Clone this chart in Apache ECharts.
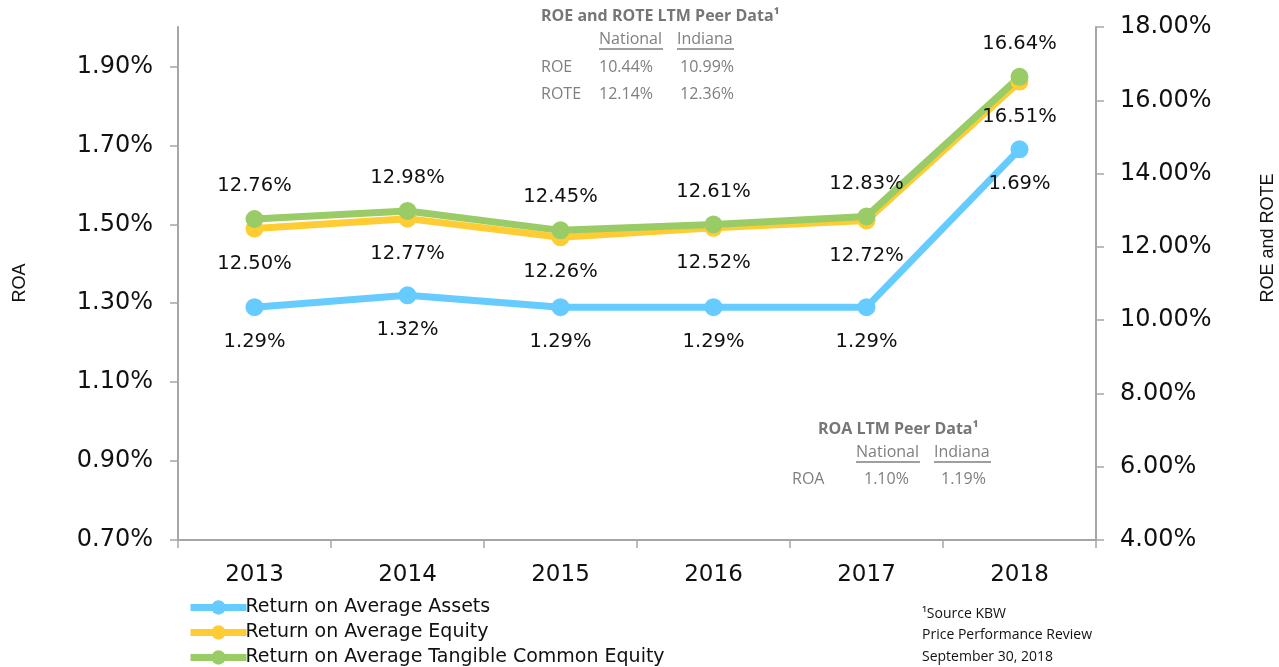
<!DOCTYPE html>
<html lang="en">
<head>
<meta charset="UTF-8">
<title>ROA, ROE and ROTE</title>
<script src="https://cdn.jsdelivr.net/npm/echarts@6/dist/echarts.min.js"></script>
<style>
    html, body { margin: 0; padding: 0; background: #fff; }
    #main { width: 1279px; height: 667px; }
</style>
</head>
<body>
<div id="main"></div>
<script>
    // data
    var years = ['2013', '2014', '2015', '2016', '2017', '2018'];
    var roa = [1.29, 1.32, 1.29, 1.29, 1.29, 1.69];
    var roe = [12.50, 12.77, 12.26, 12.52, 12.72, 16.51];
    var rote = [12.76, 12.98, 12.45, 12.61, 12.83, 16.64];
    var seriesNames = ['Return on Average Assets', 'Return on Average Equity', 'Return on Average Tangible Common Equity'];
    var peerCols = ['National', 'Indiana'];
    var peerRoeRows = [['ROE', '10.44%', '10.99%'], ['ROTE', '12.14%', '12.36%']];
    var peerRoaRows = [['ROA', '1.10%', '1.19%']];
    var sourceLines = ['\u00b9Source KBW', 'Price Performance Review', 'September 30, 2018'];

    var gray = '#7f7f7f';
    var noteFont = '"Open Sans", sans-serif';
    var mainFont = '"DejaVu Sans", sans-serif';

    function pct(v) { return v.toFixed(2) + '%'; }

    // small peer data table drawn as text (title, underlined headers, rows)
    function peerTable(title, titleX, titleY, colX, headY, rows, rowX, rowY) {
        var els = [];
        els.push({ type: 'text', x: titleX, y: titleY, style: { text: title, font: 'bold 16px ' + noteFont, fill: '#767676', textAlign: 'left', textVerticalAlign: 'middle' } });
        peerCols.forEach(function (c, i) {
            els.push({ type: 'text', x: colX[i], y: headY, style: { text: c, font: '16px ' + noteFont, fill: gray, textVerticalAlign: 'middle' } });
        });
        els.push({ type: 'line', shape: { x1: colX[0], y1: headY + 10, x2: colX[0] + 64, y2: headY + 10 }, style: { stroke: gray, lineWidth: 1.3 } });
        els.push({ type: 'line', shape: { x1: colX[1], y1: headY + 10, x2: colX[1] + 57, y2: headY + 10 }, style: { stroke: gray, lineWidth: 1.3 } });
        rows.forEach(function (r, j) {
            r.forEach(function (t, k) {
                els.push({ type: 'text', x: rowX[k], y: rowY + j * 27, style: { text: t, font: '16px ' + noteFont, fill: gray, textVerticalAlign: 'middle' } });
            });
        });
        return els;
    }

    var graphics = [];
    graphics = graphics.concat(peerTable('ROE and ROTE LTM Peer Data\u00b9', 541, 16, [599, 677], 39, peerRoeRows, [541, 599, 680], 67));
    graphics = graphics.concat(peerTable('ROA LTM Peer Data\u00b9', 818, 429, [856, 934], 452, peerRoaRows, [792, 864, 941], 479));
    sourceLines.forEach(function (t, i) {
        graphics.push({ type: 'text', x: 922, y: 614 + i * 21.5, style: { text: t, font: '14px ' + noteFont, fill: '#111', textVerticalAlign: 'middle' } });
    });
    graphics.push({ type: 'text', x: 20, y: 283, rotation: Math.PI / 2, style: { text: 'ROA', font: '18px "Liberation Sans", sans-serif', fill: '#111', textAlign: 'center', textVerticalAlign: 'middle' } });
    graphics.push({ type: 'text', x: 1268, y: 238, rotation: Math.PI / 2, style: { text: 'ROE and ROTE', font: '18px "Liberation Sans", sans-serif', fill: '#111', textAlign: 'center', textVerticalAlign: 'middle' } });

    var axisLine = { show: true, lineStyle: { color: '#a6a6a6', width: 2 } };
    var axisTick = { show: true, length: 8, lineStyle: { color: '#a6a6a6', width: 1.5 } };

    function lineSeries(name, data, axis, color, pos, dist) {
        return {
            name: name,
            type: 'line',
            yAxisIndex: axis,
            data: data,
            symbol: 'circle',
            symbolSize: 18,
            color: color,
            lineStyle: { width: 7, color: color },
            itemStyle: { color: color },
            label: {
                show: true,
                position: pos,
                distance: dist,
                fontFamily: mainFont,
                fontSize: 19.5,
                color: '#111',
                formatter: function (p) { return pct(p.value); }
            },
            emphasis: { disabled: true },
            animation: false
        };
    }

    var chart = echarts.init(document.getElementById('main'));
    chart.setOption({
        animation: false,
        grid: { left: 178, right: 183, top: 27, bottom: 127, outerBoundsMode: 'none' },
        legend: {
            orient: 'vertical',
            left: 187,
            top: 598,
            padding: 0,
            itemGap: 6,
            itemWidth: 56,
            itemHeight: 18,
            data: seriesNames,
            lineStyle: { width: 7 },
            textStyle: { fontFamily: mainFont, fontSize: 19, color: '#111', padding: [0, 0, 0, -6] }
        },
        xAxis: {
            type: 'category',
            data: years,
            boundaryGap: true,
            axisLine: axisLine,
            axisTick: axisTick,
            axisLabel: { fontFamily: mainFont, fontSize: 23, color: '#111', margin: 24 },
            splitLine: { show: false }
        },
        yAxis: [{
            type: 'value',
            min: 0.7,
            max: 2.0,
            interval: 0.2,
            position: 'left',
            axisLine: axisLine,
            axisTick: axisTick,
            axisLabel: { fontFamily: mainFont, fontSize: 24, color: '#111', margin: 25, showMaxLabel: false, formatter: function (v) { return pct(v); } },
            splitLine: { show: false }
        }, {
            type: 'value',
            min: 4,
            max: 18,
            interval: 2,
            position: 'right',
            axisLine: axisLine,
            axisTick: axisTick,
            axisLabel: { fontFamily: mainFont, fontSize: 24, color: '#111', margin: 24, formatter: function (v) { return pct(v); } },
            splitLine: { show: false }
        }],
        series: [
            lineSeries(seriesNames[0], roa, 0, '#66ccff', 'bottom', 16),
            lineSeries(seriesNames[1], roe, 1, '#ffcc33', 'bottom', 16),
            lineSeries(seriesNames[2], rote, 1, '#99cc66', 'top', 14)
        ],
        graphic: graphics
    });
</script>
</body>
</html>
